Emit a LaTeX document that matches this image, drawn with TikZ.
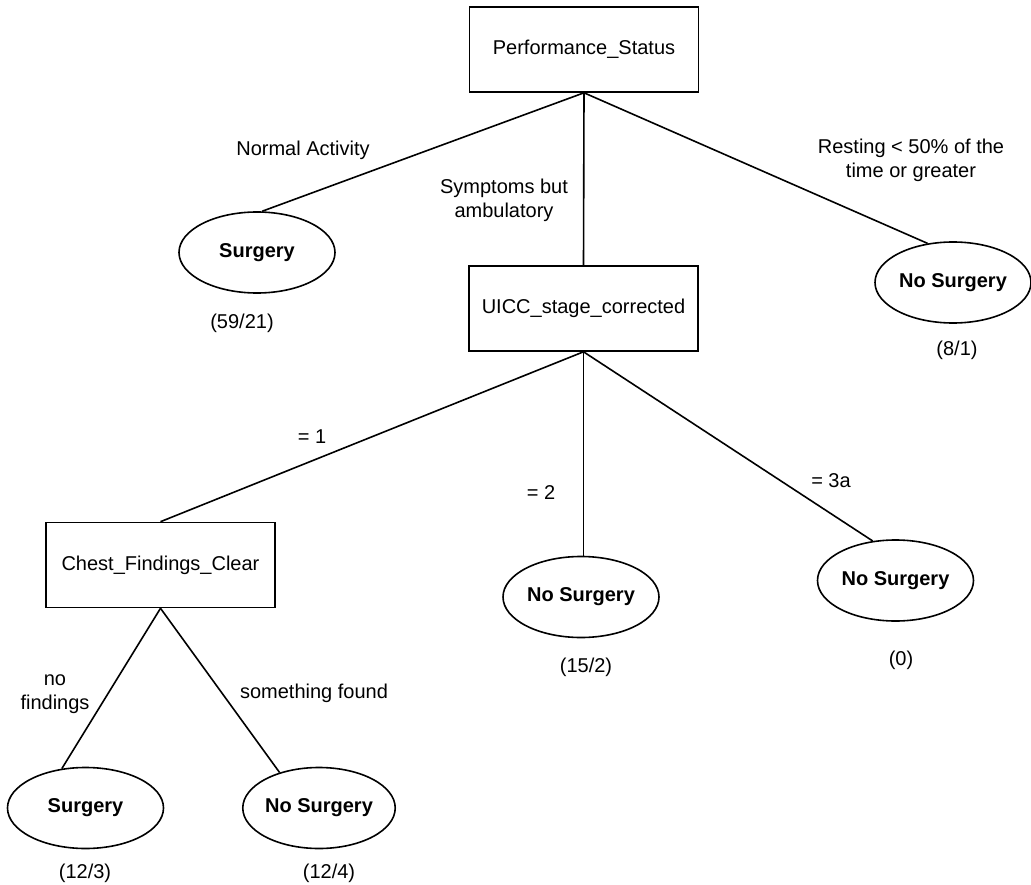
\documentclass[tikz,border=0pt]{standalone}
\usepackage{fontspec}
\setmainfont{Liberation Sans}
\usetikzlibrary{shapes.geometric}
\begin{document}
\begin{tikzpicture}[x=1pt,y=-1pt,
  font=\fontsize{20}{24}\selectfont,
  line width=1.6pt,
  box/.style={draw, rectangle, minimum width=229pt, minimum height=85pt, inner sep=0pt},
  leaf/.style={draw, ellipse, minimum width=156pt, minimum height=81pt, inner sep=0pt, font=\fontsize{20}{24}\selectfont\bfseries},
  lab/.style={align=center, inner sep=0pt},
  conn/.style={line width=1.6pt}]
\useasboundingbox (0,0) rectangle (1031,885);
% decision boxes
\node[box] (ps) at (584,49.5) {Performance\_Status};
\node[box] (uicc) at (583.5,308.5) {UICC\_stage\_corrected};
\node[box] (chest) at (160.5,565) {Chest\_Findings\_Clear};
% leaves
\node[leaf] (s1) at (257,252.5) {Surgery};
\node[leaf] (n1) at (953,282.5) {No Surgery};
\node[leaf] (n2) at (581,597) {No Surgery};
\node[leaf] (n3) at (895.5,580.5) {No Surgery};
\node[leaf] (s2) at (85.5,808) {Surgery};
\node[leaf, minimum width=150pt] (n4) at (319,808) {No Surgery};
% connectors
\draw[conn] (ps.south) -- (s1.83);
\draw[conn] (ps.south) -- (uicc.north);
\draw[conn] (ps.south) -- (n1.123);
\draw[conn] (uicc.south) -- (chest.north);
\draw[conn] (uicc.south) -- (uicc.south |- n2.north);
\draw[conn] (uicc.south) -- (n3.120);
\draw[conn] (chest.south) -- (s2.121);
\draw[conn] (chest.south) -- (n4.138);
% edge labels
\node[lab] (l1) at (303,150) {Normal Activity};
\node[lab] (l2) at (504,200) {Symptoms but\\ambulatory};
\node[lab] (l3) at (911,160) {Resting < 50\% of the\\time or greater};
\node[lab] (l4) at (312,437) {= 1};
\node[lab] (l5) at (541,493) {= 2};
\node[lab] (l6) at (831,481) {= 3a};
\node[lab] (l7) at (55,694) {no\\findings};
\node[lab] (l8) at (314,693) {something found};
% counts
\node[lab] (c1) at (242,323) {(59/21)};
\node[lab] (c2) at (957,350) {(8/1)};
\node[lab] (c3) at (586,667) {(15/2)};
\node[lab] (c4) at (901,660) {(0)};
\node[lab] (c5) at (85,873) {(12/3)};
\node[lab] (c6) at (329,873) {(12/4)};
\end{tikzpicture}
\end{document}
